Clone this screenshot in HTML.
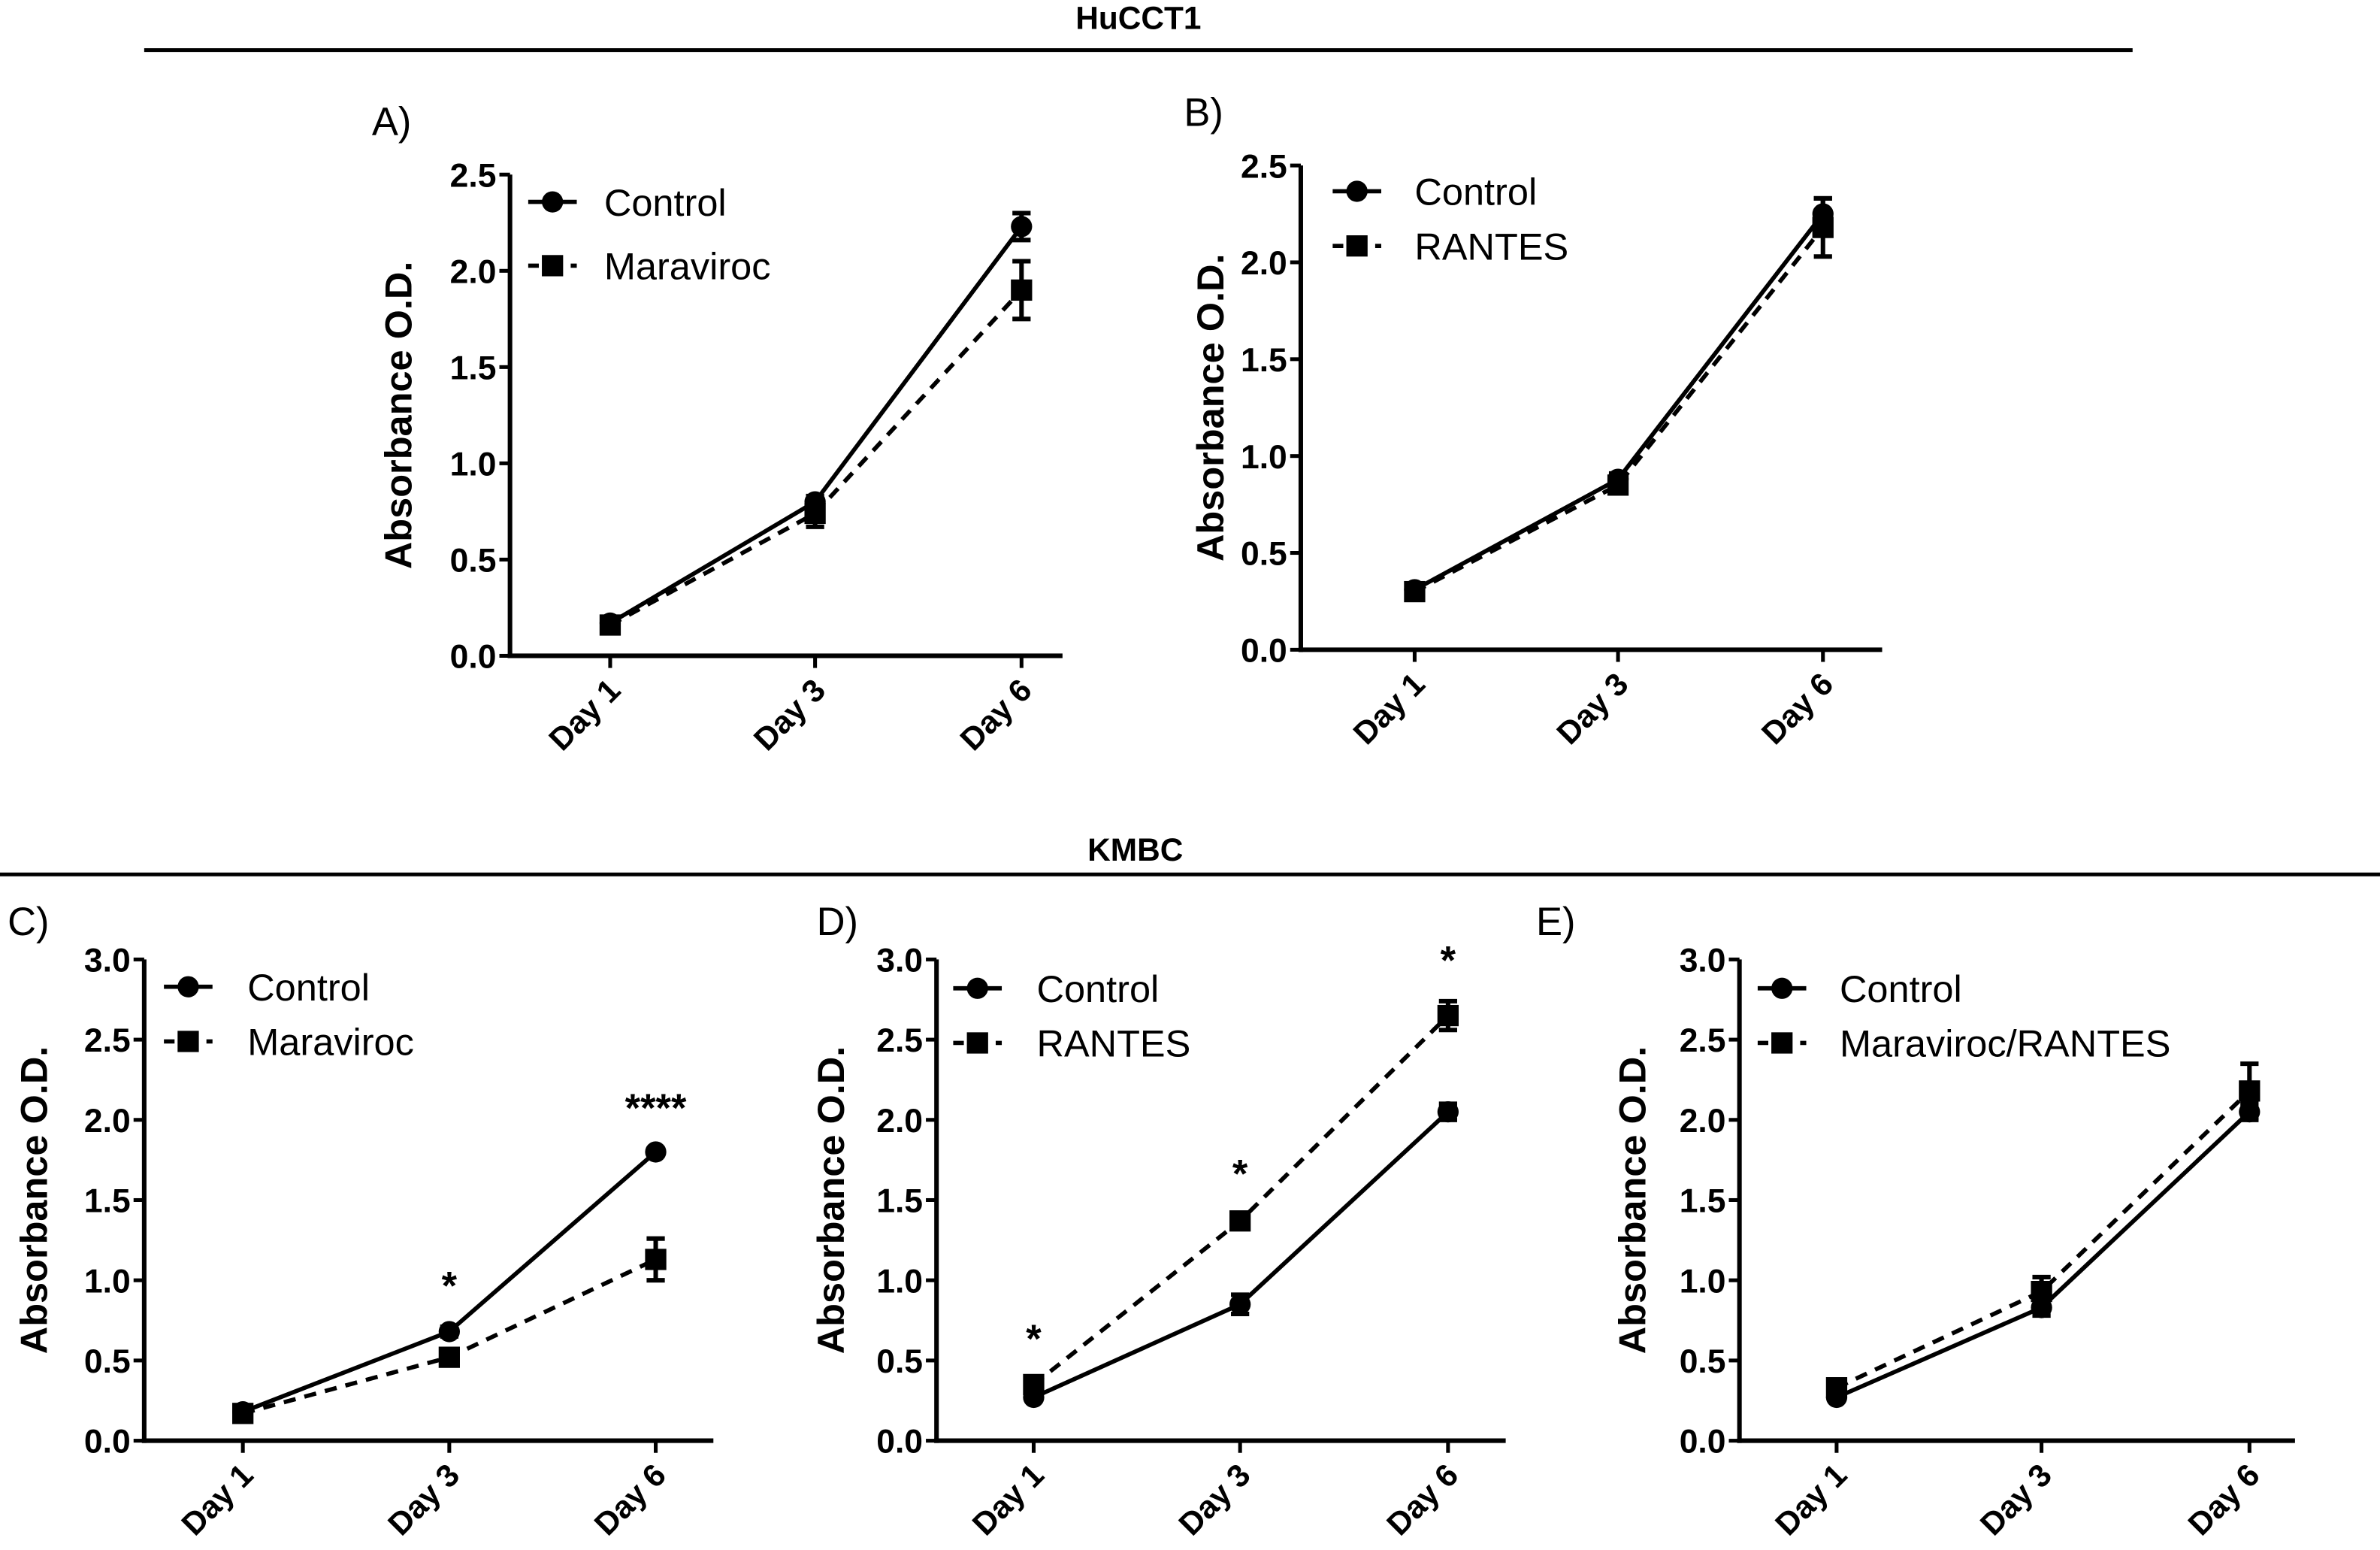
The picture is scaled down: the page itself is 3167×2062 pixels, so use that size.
<!DOCTYPE html>
<html><head><meta charset="utf-8">
<style>
html,body{margin:0;padding:0;background:#fff;}
svg{display:block;font-family:"Liberation Sans",Arial,sans-serif;}
</style></head>
<body>
<svg id="fig" width="3167" height="2062" viewBox="0 0 1568 1021" preserveAspectRatio="none" xmlns="http://www.w3.org/2000/svg">
<text x="750" y="19" text-anchor="middle" font-size="21" font-weight="bold">HuCCT1</text>
<line x1="95" y1="33" x2="1405" y2="33" stroke="#000" stroke-width="2.5"/>
<text x="748" y="567" text-anchor="middle" font-size="21" font-weight="bold">KMBC</text>
<line x1="0" y1="576" x2="1568" y2="576" stroke="#000" stroke-width="2.5"/>
</svg>
<script>
const days = ["Day 1","Day 3","Day 6"];
const ctrlA = [0.17,0.80,2.23];
const ctrlAErr = [0.02,0.03,0.07];
const treatA = [0.16,0.74,1.90];
const treatAErr = [0.02,0.07,0.15];
const ctrlB = [0.31,0.88,2.25];
const ctrlBErr = [0.02,0.03,0.08];
const treatB = [0.30,0.85,2.18];
const treatBErr = [0.02,0.03,0.15];
const ctrlC = [0.18,0.68,1.80];
const ctrlCErr = [0.02,0.03,0.02];
const treatC = [0.17,0.52,1.13];
const treatCErr = [0.02,0.05,0.13];
const ctrlD = [0.27,0.85,2.05];
const ctrlDErr = [0.02,0.06,0.05];
const treatD = [0.35,1.37,2.65];
const treatDErr = [0.03,0.04,0.09];
const ctrlE = [0.27,0.83,2.05];
const ctrlEErr = [0.02,0.05,0.05];
const treatE = [0.33,0.93,2.18];
const treatEErr = [0.03,0.09,0.17];
const ticksA = [0,0.5,1.0,1.5,2.0,2.5];
const ticksC = [0,0.5,1.0,1.5,2.0,2.5,3.0];
const starsC = ["","*","****"];
const starsD = ["*","*","*"];

const NS="http://www.w3.org/2000/svg";
const svg=document.getElementById('fig');
function mk(tag,attrs,parent){const e=document.createElementNS(NS,tag);for(const k in attrs)e.setAttribute(k,attrs[k]);(parent||svg).appendChild(e);return e;}

const panels=[
 {id:'a',label:'A)',lx:245,ly:89,ax:336,y0:432,ytop:115,ymax:2.5,ticks:ticksA,xs:[402,537,673],xend:700,ytx:262,leg:[133,175],lm:348,lt:398,names:['Control','Maraviroc'],c:ctrlA,ce:ctrlAErr,t:treatA,te:treatAErr,stars:null},
 {id:'b',label:'B)',lx:780,ly:83,ax:857,y0:428,ytop:109,ymax:2.5,ticks:ticksA,xs:[932,1066,1201],xend:1240,ytx:797,leg:[126,162],lm:878,lt:932,names:['Control','RANTES'],c:ctrlB,ce:ctrlBErr,t:treatB,te:treatBErr,stars:null},
 {id:'c',label:'C)',lx:5,ly:616,ax:95,y0:949,ytop:632,ymax:3.0,ticks:ticksC,xs:[160,296,432],xend:470,ytx:22,leg:[650,686],lm:108,lt:163,names:['Control','Maraviroc'],c:ctrlC,ce:ctrlCErr,t:treatC,te:treatCErr,stars:starsC},
 {id:'d',label:'D)',lx:538,ly:616,ax:617,y0:949,ytop:632,ymax:3.0,ticks:ticksC,xs:[681,817,954],xend:992,ytx:547,leg:[651,687],lm:628,lt:683,names:['Control','RANTES'],c:ctrlD,ce:ctrlDErr,t:treatD,te:treatDErr,stars:starsD},
 {id:'e',label:'E)',lx:1012,ly:616,ax:1146,y0:949,ytop:632,ymax:3.0,ticks:ticksC,xs:[1210,1345,1482],xend:1512,ytx:1075,leg:[651,687],lm:1158,lt:1212,names:['Control','Maraviroc/RANTES'],c:ctrlE,ce:ctrlEErr,t:treatE,te:treatEErr,stars:null}
];

panels.forEach(p=>{
 const g=mk('g',{});
 
 
 const Y=v=>p.y0-(v/p.ymax)*(p.y0-p.ytop);
 const X=i=>p.xs[i];
 const lab=mk('text',{x:p.lx,y:p.ly,'font-size':26},g);lab.textContent=p.label;
 
 
 const ya=mk('line',{x1:p.ax,y1:p.ytop,x2:p.ax,y2:p.y0+1.5,stroke:'#000','stroke-width':3},g);
 
 
 const xa=mk('line',{x1:p.ax-1.5,y1:p.y0,x2:p.xend,y2:p.y0,stroke:'#000','stroke-width':3},g);
 
 
 p.ticks.forEach(v=>{
  mk('line',{x1:p.ax-7,y1:Y(v),x2:p.ax,y2:Y(v),stroke:'#000','stroke-width':2.5},g);
  const t=mk('text',{x:p.ax-9,y:Y(v)+8,'text-anchor':'end','font-size':22,'font-weight':'bold'},g);
  t.textContent=v.toFixed(1);
  
  
 });
 days.forEach((d,i)=>{
  mk('line',{x1:X(i),y1:p.y0,x2:X(i),y2:p.y0+8,stroke:'#000','stroke-width':2.5},g);
  const t=mk('text',{x:X(i)+8,y:p.y0+24,'text-anchor':'end','font-size':21,'font-weight':'bold',transform:`rotate(-45 ${X(i)+8} ${p.y0+24})`},g);
  t.textContent=d;
  
  
 });
 const yt=mk('text',{x:p.ytx,y:(p.ytop+p.y0)/2,'text-anchor':'middle','font-size':25,'font-weight':'bold',transform:`rotate(-90 ${p.ytx} ${(p.ytop+p.y0)/2})`,dy:9},g);
 yt.textContent='Absorbance O.D.';
 
 
 const series=[{v:p.c,e:p.ce,dash:null,sq:false},{v:p.t,e:p.te,dash:'8 6',sq:true}];
 series.forEach((s,si)=>{
  const pts=s.v.map((v,i)=>X(i)+','+Y(v)).join(' ');
  const pl=mk('polyline',{points:pts,fill:'none',stroke:'#000','stroke-width':2.8},g);
  if(s.dash)pl.setAttribute('stroke-dasharray',s.dash);
  
  
  s.v.forEach((v,i)=>{
   const x=X(i),y1=Y(v+s.e[i]),y2=Y(v-s.e[i]);
   const eb=mk('path',{d:`M${x},${y1}V${y2}M${x-6},${y1}H${x+6}M${x-6},${y2}H${x+6}`,stroke:'#000','stroke-width':3,fill:'none'},g);
   
   
   let m;
   if(s.sq)m=mk('rect',{x:x-7,y:Y(v)-7,width:14,height:14,fill:'#000'},g);
   else m=mk('circle',{cx:x,cy:Y(v),r:7,fill:'#000'},g);
   
   
  });
 });
 if(p.stars){
  p.stars.forEach((s,i)=>{
   if(!s)return;
   const top=Math.max(p.c[i]+p.ce[i],p.t[i]+p.te[i]);
   const t=mk('text',{x:X(i),y:Y(top)-18,'text-anchor':'middle','font-size':26,'font-weight':'bold'},g);
   t.textContent=s;
   
   
  });
 }
 p.names.forEach((n,k)=>{
  const y=p.leg[k];
  const ln=mk('line',{x1:p.lm,y1:y,x2:p.lm+32,y2:y,stroke:'#000','stroke-width':2.8},g);
  if(k)ln.setAttribute('stroke-dasharray','7 7');
  if(k)mk('rect',{x:p.lm+9,y:y-7,width:14,height:14,fill:'#000'},g);
  else mk('circle',{cx:p.lm+16,cy:y,r:7,fill:'#000'},g);
  const t=mk('text',{x:p.lt,y:y+9,'font-size':25},g);
  t.textContent=n;
  
  
 });
});
</script>
</body></html>
